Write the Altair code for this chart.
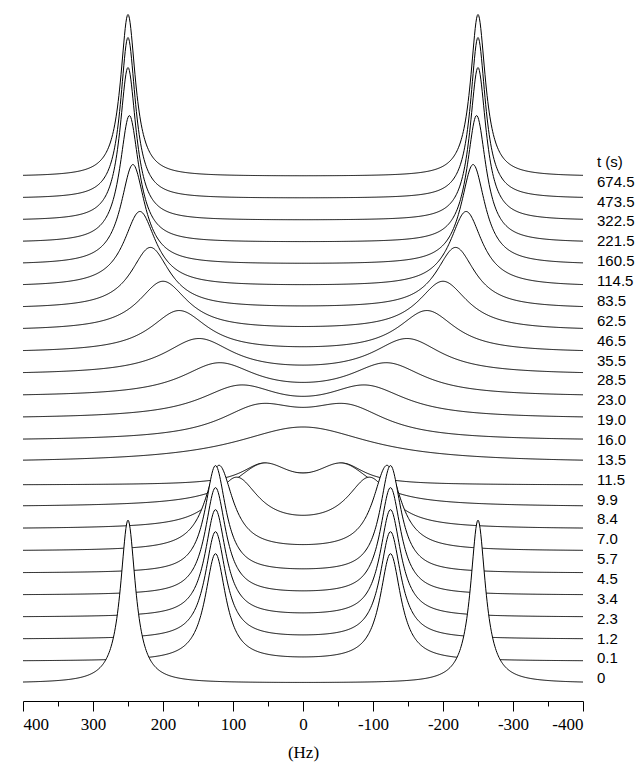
import altair as alt
import numpy as np
import pandas as pd

# ---- spectra, bottom trace (t = 0) first; each trace = pair of lines at +/-pos ----
peak_pos_hz = [250, 125, 125, 125, 125, 125, 120, 95, 57, 57, 0, 62, 90, 120, 149, 177, 200, 218, 233, 243, 248, 250, 250, 250]
half_width_hz = [13, 18, 18, 18, 18, 18, 24, 38, 52, 37, 117, 70, 70, 65, 60, 50, 43, 34, 28, 21, 16.5, 14, 13, 13]
peak_height = [163, 107, 107, 107, 107, 107, 85, 50, 37.5, 20, 18, 30, 30, 32, 35, 41.5, 49, 61, 75, 100, 127, 153, 161, 162]

# ---- right-hand time labels (bottom first) ----
time_labels = ["0", "0.1", "1.2", "2.3", "3.4", "4.5", "5.7", "7.0", "8.4", "9.9", "11.5", "13.5", "16.0",
               "19.0", "23.0", "28.5", "35.5", "46.5", "62.5", "83.5", "114.5", "160.5", "221.5", "322.5",
               "473.5", "674.5"]
label_header = "t (s)"

# ---- axis ----
x_ticks = list(range(-400, 401, 50))

SPACING = 22.03
freq = np.arange(400.0, -400.5, -1.0)
rows = []
for i, (p, w, a) in enumerate(zip(peak_pos_hz, half_width_hz, peak_height)):
    base = i * SPACING
    sig = a / (1 + ((freq - p) / w) ** 2) + a / (1 + ((freq + p) / w) ** 2)
    for f, s in zip(freq, sig):
        rows.append({"trace": i, "hz": float(f), "y": float(base + s), "base": base})
df = pd.DataFrame(rows)

lab_df = pd.DataFrame({"label": time_labels + [label_header],
                       "idx": list(range(len(time_labels))) + [len(time_labels)]})

xenc = alt.X(
    "hz:Q",
    scale=alt.Scale(domain=[400, -400], nice=False, zero=False),
    axis=alt.Axis(
        values=x_ticks,
        tickSize={"condition": {"test": "datum.value % 100 === 0", "value": 10}, "value": 5},
        labelExpr="datum.value % 100 === 0 ? '' + datum.value : ''",
        labelFont="Liberation Serif",
        labelFontSize=17,
        labelColor="black",
        labelPadding=5,
        tickColor="black",
        domainColor="black",
        grid=False,
        title="(Hz)",
        titleFont="Liberation Serif",
        titleFontSize=17,
        titleFontWeight="normal",
        titleColor="black",
        titlePadding=12,
    ),
)
yscale = alt.Scale(domain=[-17.7, 678.3], nice=False, zero=False)

base_chart = alt.Chart(df)
layers = []
for i in reversed(range(len(peak_pos_hz))):
    sub = base_chart.transform_filter(alt.datum.trace == i)
    layers.append(
        sub.mark_area(color="white", opacity=1).encode(
            x=xenc, y=alt.Y("y:Q", scale=yscale, axis=None), y2="base:Q"
        )
    )
    layers.append(
        sub.mark_line(color="black", strokeWidth=1).encode(
            x=xenc, y=alt.Y("y:Q", scale=yscale, axis=None)
        )
    )
traces = alt.layer(*layers)

labels = alt.Chart(lab_df).mark_text(
    align="left", baseline="middle", font="Liberation Sans", fontSize=15, color="black"
).encode(
    x=alt.value(574),
    y=alt.Y("idx:Q", scale=alt.Scale(domain=[-1.143, 33.9], nice=False, zero=False), axis=None),
    text="label:N",
)

chart = (
    alt.layer(traces, labels)
    .resolve_scale(y="independent")
    .properties(
        width=560,
        height=696,
        padding={"left": 23, "top": 5, "right": 56, "bottom": 61},
        autosize=alt.AutoSizeParams(type="none"),
        background="white",
    )
    .configure_view(stroke=None)
)
chart.save("out.html", embed_options={"renderer": "svg", "actions": False})
